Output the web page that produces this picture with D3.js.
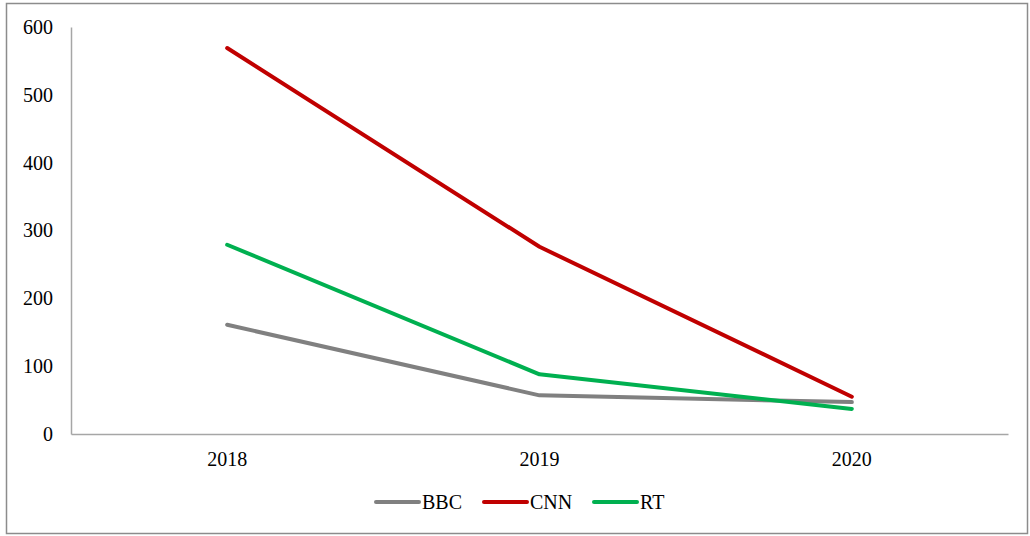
<!DOCTYPE html>
<html>
<head>
<meta charset="utf-8">
<script src="https://cdn.jsdelivr.net/npm/d3@7"></script>
<style>
  html, body { margin: 0; padding: 0; background: #fff; }
  svg text { font-family: 'Liberation Serif', 'Times New Roman', serif; fill: #000; }
</style>
</head>
<body>
<div id="chart"></div>
<script>
const years = ['2018', '2019', '2020']
const seriesNames = ['BBC', 'CNN', 'RT']
const bbcValues = [161, 57, 47]
const cnnValues = [569, 276, 55]
const rtValues = [279, 88, 37]
const yTicks = [0, 100, 200, 300, 400, 500, 600]
const seriesColors = ['#808080', '#c00000', '#00b050']

const allSeries = [bbcValues, cnnValues, rtValues]

const width = 1030
const height = 536
const margin = { top: 27, right: 22, bottom: 102, left: 71 }
const fontSize = '20px'

const svg = d3.select('#chart').append('svg')
  .attr('width', width)
  .attr('height', height)

// chart border
svg.append('rect')
  .attr('x', 6.5).attr('y', 3.5)
  .attr('width', 1021).attr('height', 530)
  .attr('fill', 'none')
  .attr('stroke', '#8c8c8c')
  .attr('stroke-width', 1.5)

const xScale = d3.scaleBand()
  .domain(years)
  .range([margin.left, width - margin.right])

const yScale = d3.scaleLinear()
  .domain([0, 600])
  .range([height - margin.bottom, margin.top])

// y axis
const yAxis = svg.append('g')
  .attr('transform', `translate(${margin.left}, 0)`)
  .call(d3.axisLeft(yScale).tickValues(yTicks).tickSize(0).tickPadding(18))
yAxis.select('.domain').attr('stroke', '#a6a6a6').attr('stroke-width', 1.5)
yAxis.selectAll('text').style('font-size', fontSize)

// x axis
const xAxis = svg.append('g')
  .attr('transform', `translate(0, ${height - margin.bottom})`)
  .call(d3.axisBottom(xScale).tickSize(0).tickPadding(18))
xAxis.select('.domain').attr('stroke', '#a6a6a6').attr('stroke-width', 1.5)
xAxis.selectAll('text').style('font-size', fontSize)

const line = d3.line()
  .x((d, i) => xScale(years[i]) + xScale.bandwidth() / 2)
  .y((d) => yScale(d))

allSeries.forEach((values, index) => {
  svg.append('path')
    .datum(values)
    .attr('fill', 'none')
    .attr('stroke', seriesColors[index])
    .attr('stroke-width', 4)
    .attr('stroke-linecap', 'round')
    .attr('stroke-linejoin', 'round')
    .attr('d', line)
})

// legend
const legendX = [376, 484, 594]
const legend = svg.append('g').attr('transform', 'translate(0, 502)')
seriesNames.forEach((name, index) => {
  const g = legend.append('g').attr('transform', `translate(${legendX[index]}, 0)`)
  g.append('line')
    .attr('x1', 0).attr('x2', 43)
    .attr('stroke', seriesColors[index])
    .attr('stroke-width', 4)
    .attr('stroke-linecap', 'round')
  g.append('text')
    .attr('x', 46)
    .attr('dy', '0.35em')
    .style('font-size', fontSize)
    .text(name)
})
</script>
</body>
</html>
